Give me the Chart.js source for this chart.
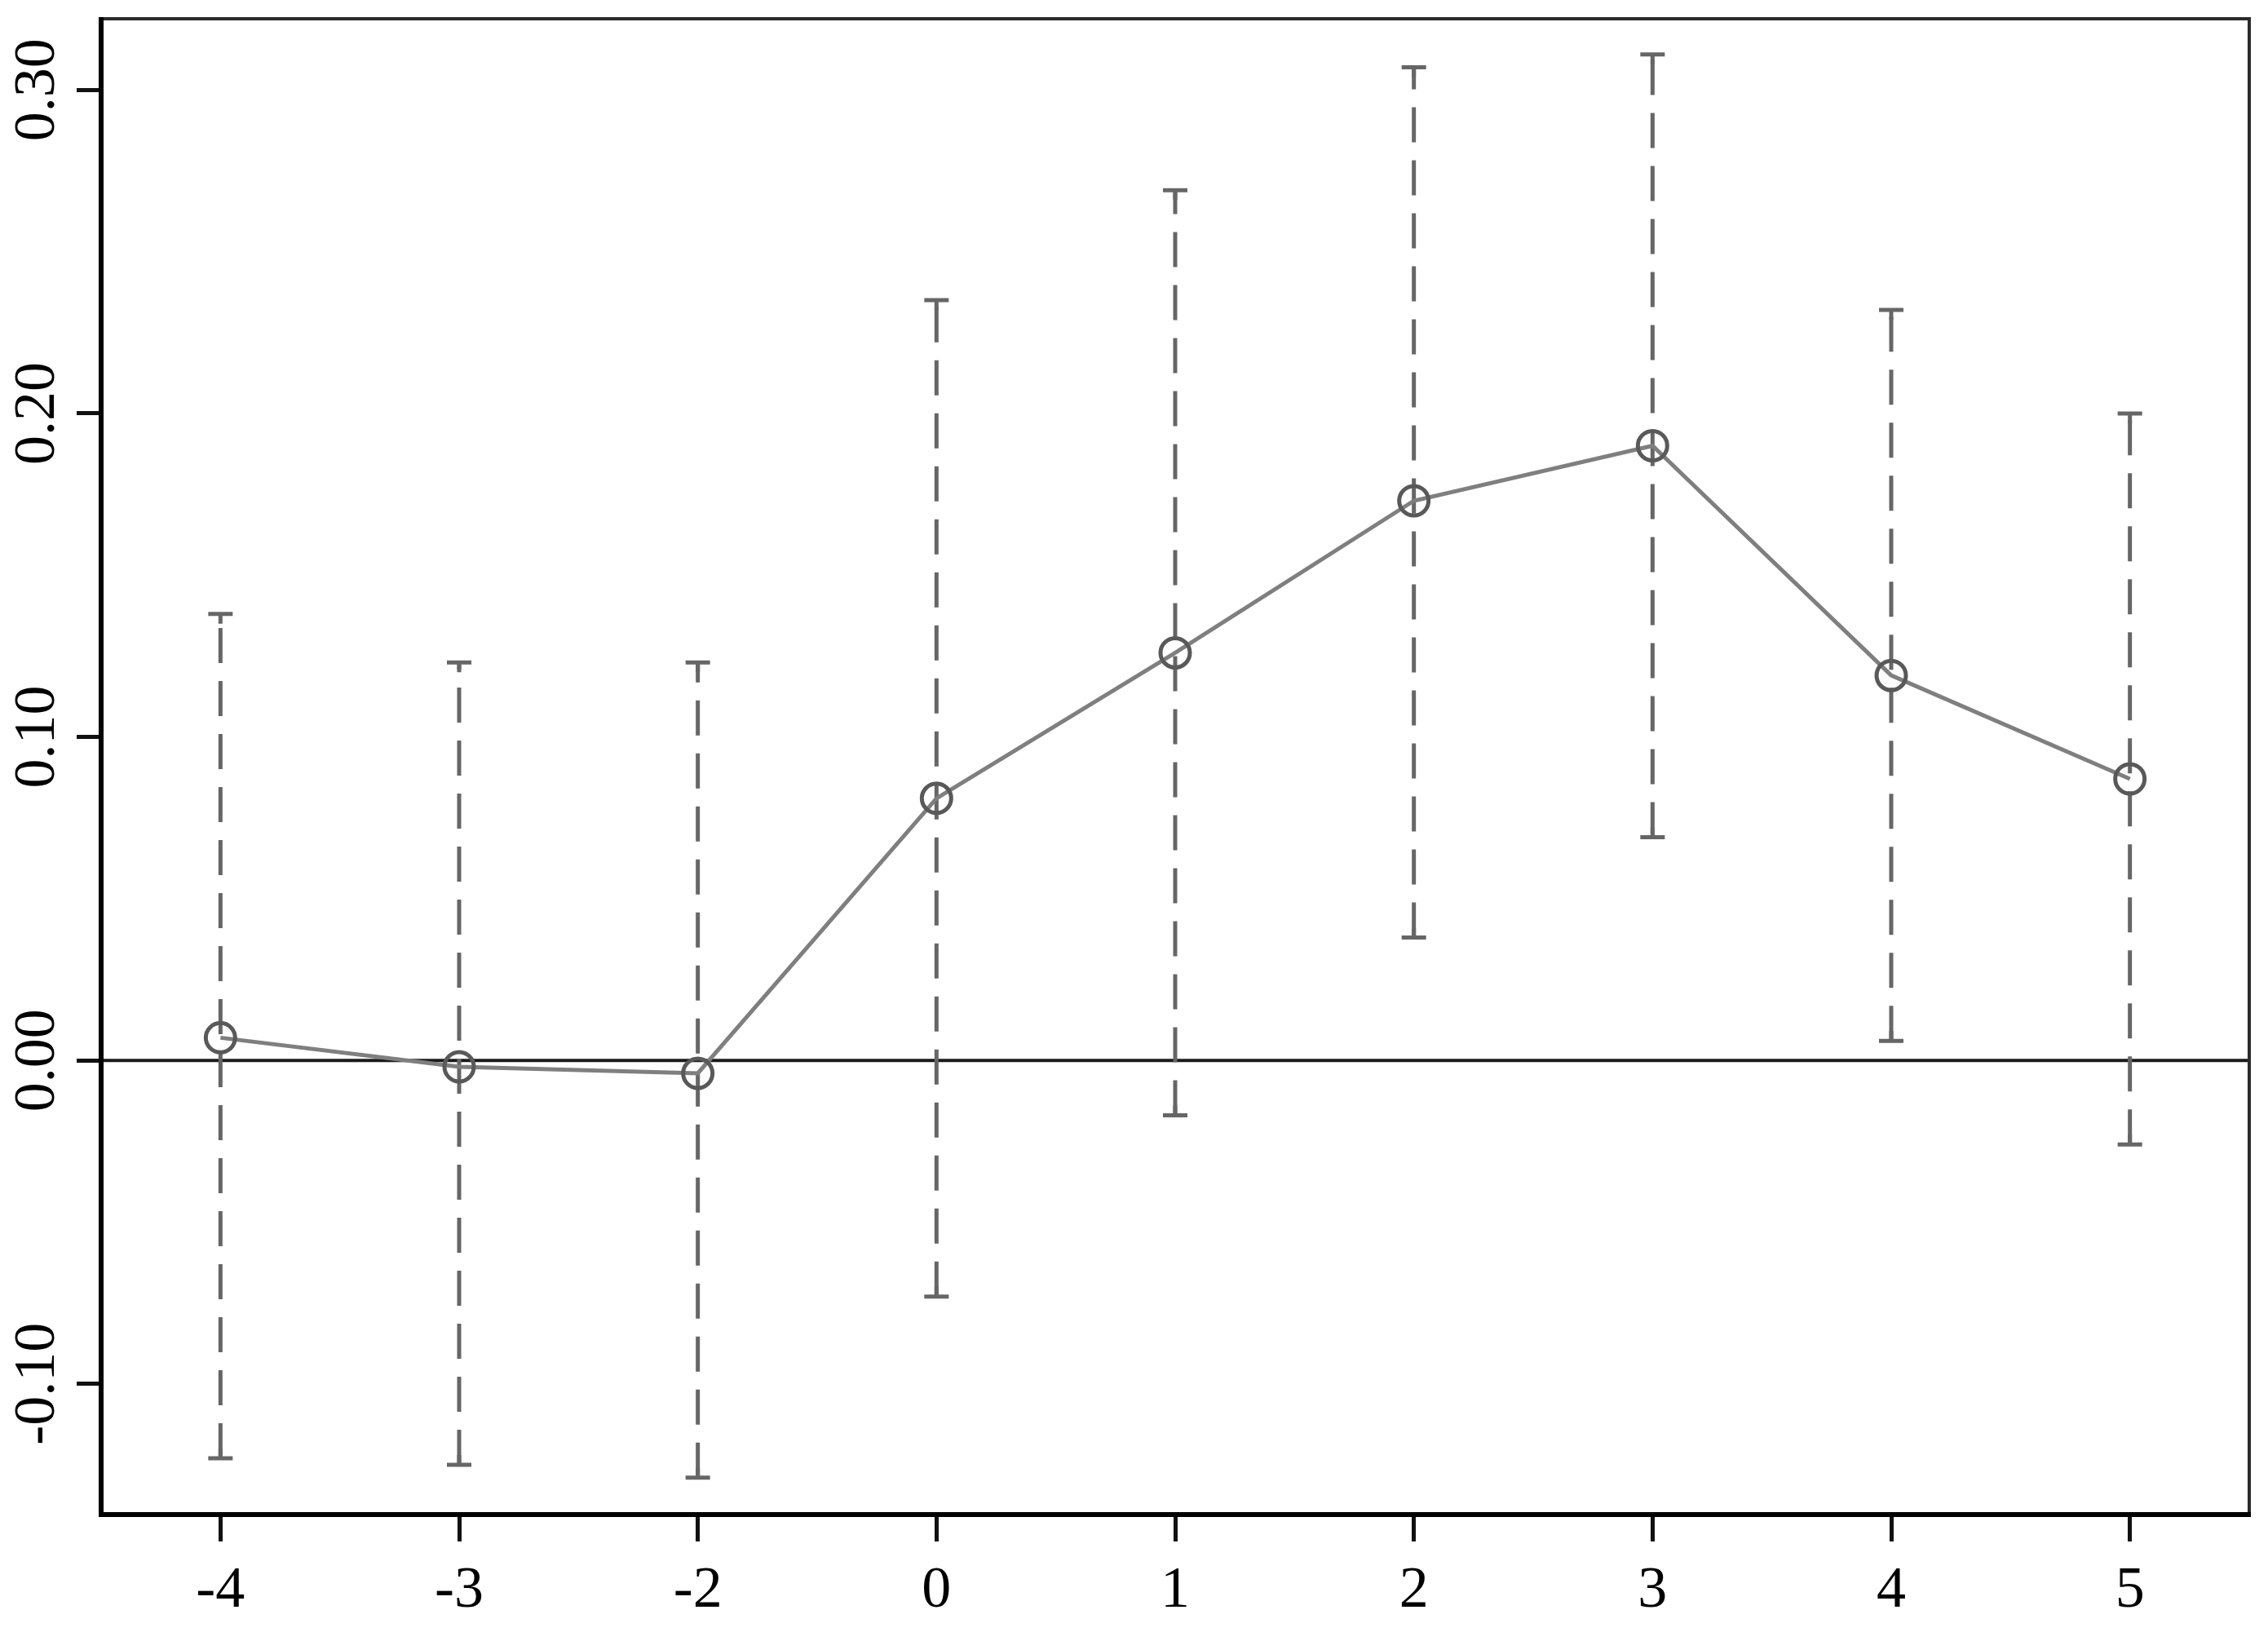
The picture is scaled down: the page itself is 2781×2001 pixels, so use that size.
<!DOCTYPE html>
<html>
<head>
<meta charset="utf-8">
<script src="https://cdn.jsdelivr.net/npm/chart.js@4.4.0/dist/chart.umd.min.js"></script>
<style>
  html, body { margin: 0; padding: 0; background: #fff; }
  #wrap { width: 2781px; height: 2001px; }
</style>
</head>
<body>
<div id="wrap"><canvas id="chart"></canvas></div>
<script>
// event-time periods and point estimates with 95% CI
const periods = ["-4", "-3", "-2", "0", "1", "2", "3", "4", "5"];
const estimates = [0.007, -0.002, -0.004, 0.081, 0.126, 0.173, 0.190, 0.119, 0.087];
const ciHigh = [0.138, 0.123, 0.123, 0.235, 0.269, 0.307, 0.311, 0.232, 0.200];
const ciLow = [-0.123, -0.125, -0.129, -0.073, -0.017, 0.038, 0.069, 0.006, -0.026];
const yTicks = [-0.1, 0, 0.1, 0.2, 0.3];

const FONT = "'Liberation Serif', 'Times New Roman', serif";

const overlay = {
  id: "overlay",
  beforeDatasetsDraw(chart) {
    const { ctx, chartArea: a, scales } = chart;
    const x = scales.x, y = scales.y;
    ctx.save();

    // zero reference line
    const y0 = y.getPixelForValue(0);
    ctx.strokeStyle = "#1a1a1a";
    ctx.lineWidth = 4;
    ctx.beginPath();
    ctx.moveTo(a.left, y0);
    ctx.lineTo(a.right, y0);
    ctx.stroke();

    // dashed CI bars with caps
    ctx.strokeStyle = "#666666";
    ctx.lineWidth = 5;
    periods.forEach((p, i) => {
      const px = x.getPixelForValue(i);
      const top = y.getPixelForValue(ciHigh[i]);
      const bot = y.getPixelForValue(ciLow[i]);
      ctx.setLineDash([43, 22]);
      ctx.beginPath();
      ctx.moveTo(px, bot);
      ctx.lineTo(px, top);
      ctx.stroke();
      ctx.setLineDash([]);
      ctx.beginPath();
      ctx.moveTo(px - 15, top);
      ctx.lineTo(px + 15, top);
      ctx.moveTo(px - 15, bot);
      ctx.lineTo(px + 15, bot);
      ctx.moveTo(px, top);
      ctx.lineTo(px, top + 12);
      ctx.moveTo(px, bot);
      ctx.lineTo(px, bot - 12);
      ctx.stroke();
    });
    ctx.restore();
  },
  afterDraw(chart) {
    const { ctx, chartArea: a, scales } = chart;
    const y = scales.y;
    ctx.save();

    // frame: left/bottom heavier
    ctx.strokeStyle = "#2b2b2b";
    ctx.lineWidth = 4;
    ctx.beginPath();
    ctx.moveTo(a.left, a.top);
    ctx.lineTo(a.right, a.top);
    ctx.lineTo(a.right, a.bottom);
    ctx.stroke();
    ctx.strokeStyle = "#000";
    ctx.lineWidth = 6;
    ctx.beginPath();
    ctx.moveTo(a.left, a.top - 2);
    ctx.lineTo(a.left, a.bottom);
    ctx.lineTo(a.right + 2, a.bottom);
    ctx.stroke();

    // rotated y tick labels
    ctx.fillStyle = "#000";
    ctx.font = "72px " + FONT;
    ctx.textAlign = "center";
    ctx.textBaseline = "alphabetic";
    yTicks.forEach((v) => {
      const py = y.getPixelForValue(v);
      ctx.save();
      ctx.translate(66, py);
      ctx.rotate(-Math.PI / 2);
      ctx.fillText(v.toFixed(2), 0, 0);
      ctx.restore();
    });
    ctx.restore();
  },
};

new Chart(document.getElementById("chart"), {
  type: "line",
  data: {
    labels: periods,
    datasets: [
      {
        data: estimates,
        borderColor: "#7f7f7f",
        borderWidth: 5,
        pointStyle: "circle",
        pointRadius: 18,
        pointBorderWidth: 5,
        pointBorderColor: "#595959",
        pointBackgroundColor: "rgba(0,0,0,0)",
        tension: 0,
      },
    ],
  },
  options: {
    responsive: true,
    maintainAspectRatio: false,
    animation: false,
    layout: { padding: { top: 23, right: 23, left: 0, bottom: 0 } },
    plugins: { legend: { display: false }, tooltip: { enabled: false } },
    scales: {
      x: {
        type: "category",
        offset: true,
        border: { display: false },
        grid: {
          offset: false,
          drawOnChartArea: false,
          drawTicks: true,
          tickLength: 33,
          tickWidth: 5,
          tickColor: "#111",
        },
        ticks: {
          color: "#000",
          font: { family: FONT, size: 72 },
          padding: 18,
          maxRotation: 0,
          autoSkip: false,
        },
        afterFit: (s) => { s.height = 144; },
      },
      y: {
        type: "linear",
        min: -0.1404,
        max: 0.322,
        border: { display: false },
        afterBuildTicks: (s) => { s.ticks = yTicks.map((v) => ({ value: v })); },
        grid: {
          drawOnChartArea: false,
          drawTicks: true,
          tickLength: 30,
          tickWidth: 5,
          tickColor: "#111",
        },
        ticks: { display: false },
        afterFit: (s) => { s.width = 124; },
      },
    },
  },
  plugins: [overlay],
});
</script>
</body>
</html>
